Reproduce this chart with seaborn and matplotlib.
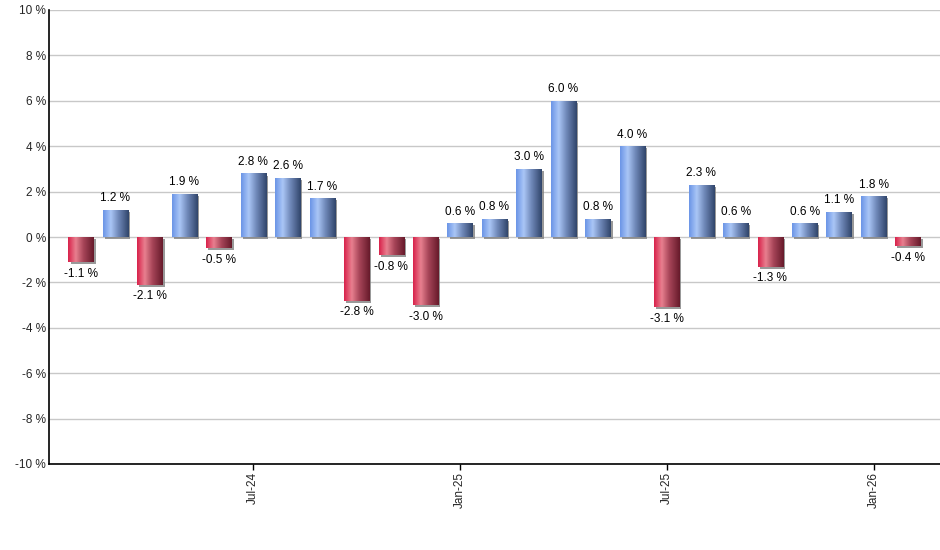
import numpy as np
import pandas as pd
import matplotlib
matplotlib.use("Agg")
import matplotlib.pyplot as plt
import matplotlib.patheffects as pe
from matplotlib.colors import LinearSegmentedColormap
import seaborn as sns

months = ["Feb-24", "Mar-24", "Apr-24", "May-24", "Jun-24", "Jul-24", "Aug-24", "Sep-24",
          "Oct-24", "Nov-24", "Dec-24", "Jan-25", "Feb-25", "Mar-25", "Apr-25", "May-25",
          "Jun-25", "Jul-25", "Aug-25", "Sep-25", "Oct-25", "Nov-25", "Dec-25", "Jan-26", "Feb-26"]
values = [-1.1, 1.2, -2.1, 1.9, -0.5, 2.8, 2.6, 1.7, -2.8, -0.8, -3.0, 0.6, 0.8, 3.0, 6.0,
          0.8, 4.0, -3.1, 2.3, 0.6, -1.3, 0.6, 1.1, 1.8, -0.4]
shown_ticks = ["Jul-24", "Jan-25", "Jul-25", "Jan-26"]
y_ticks = [-10, -8, -6, -4, -2, 0, 2, 4, 6, 8, 10]

df = pd.DataFrame({"month": months, "value": values})
df["sign"] = np.where(df["value"] >= 0, "pos", "neg")

sns.set_theme(style="white")
plt.rcParams["font.family"] = ["Liberation Sans", "DejaVu Sans"]

fig = plt.figure(figsize=(9.4, 5.5), dpi=100)
ax = fig.add_axes([49 / 940, 1 - 464 / 550, 1 - 49 / 940, (464 - 10) / 550])

sns.barplot(data=df, x="month", y="value", hue="sign",
            palette={"pos": "#6f95dc", "neg": "#c8304c"},
            width=0.73, dodge=False, legend=False, ax=ax, zorder=3,
            linewidth=0)

blue_cmap = LinearSegmentedColormap.from_list(
    "b", [(0, "#6a94e6"), (0.30, "#aac6f6"), (0.60, "#6f88b8"), (1, "#30446a")])
red_cmap = LinearSegmentedColormap.from_list(
    "r", [(0, "#d8204a"), (0.30, "#e8808f"), (0.60, "#a64458"), (1, "#661a2a")])
grad = np.linspace(0, 1, 256).reshape(1, -1)

shadow = [pe.SimplePatchShadow(offset=(1.5, -1.5), shadow_rgbFace="#808080", alpha=0.8), pe.Normal()]
for patch in list(ax.patches):
    h = patch.get_height()
    w = patch.get_width()
    if w == 0:
        continue
    x0 = patch.get_x()
    y0 = patch.get_y()
    cmap = blue_cmap if h >= 0 else red_cmap
    patch.set_path_effects(shadow)
    im = ax.imshow(grad, cmap=cmap, aspect="auto",
                   extent=[x0, x0 + w, min(y0, y0 + h), max(y0, y0 + h)],
                   origin="lower", zorder=4, interpolation="bilinear")
    im.set_clip_path(patch)

for i, v in enumerate(values):
    if v >= 0:
        ax.annotate(f"{v:.1f} %", (i, v), xytext=(0, 4), textcoords="offset points",
                    ha="center", va="bottom", fontsize=8.5, color="#000000", zorder=6)
    else:
        ax.annotate(f"{v:.1f} %", (i, v), xytext=(0, -4), textcoords="offset points",
                    ha="center", va="top", fontsize=8.5, color="#000000", zorder=6)

ax.set_xlim(-0.93, 24.93)
ax.set_ylim(-10, 10)
ax.set_yticks(y_ticks)
ax.set_yticklabels([f"{t} %" for t in y_ticks], fontsize=8.5)
tick_pos = [months.index(m) for m in shown_ticks]
ax.set_xticks(tick_pos)
ax.set_xticklabels(shown_ticks, rotation=90, fontsize=8.5)
ax.set_xlabel("")
ax.set_ylabel("")

ax.yaxis.grid(True, color="#c8c8c8", linewidth=1, zorder=0)
ax.set_axisbelow(True)
for s in ["top", "right"]:
    ax.spines[s].set_visible(False)
for s in ["left", "bottom"]:
    ax.spines[s].set_visible(True)
    ax.spines[s].set_color("black")
    ax.spines[s].set_linewidth(1.2)
ax.tick_params(axis="x", bottom=True, length=4, width=1, color="black", pad=2)
ax.tick_params(axis="y", left=False, length=0, pad=2)

fig.savefig("out.png", dpi=100)
